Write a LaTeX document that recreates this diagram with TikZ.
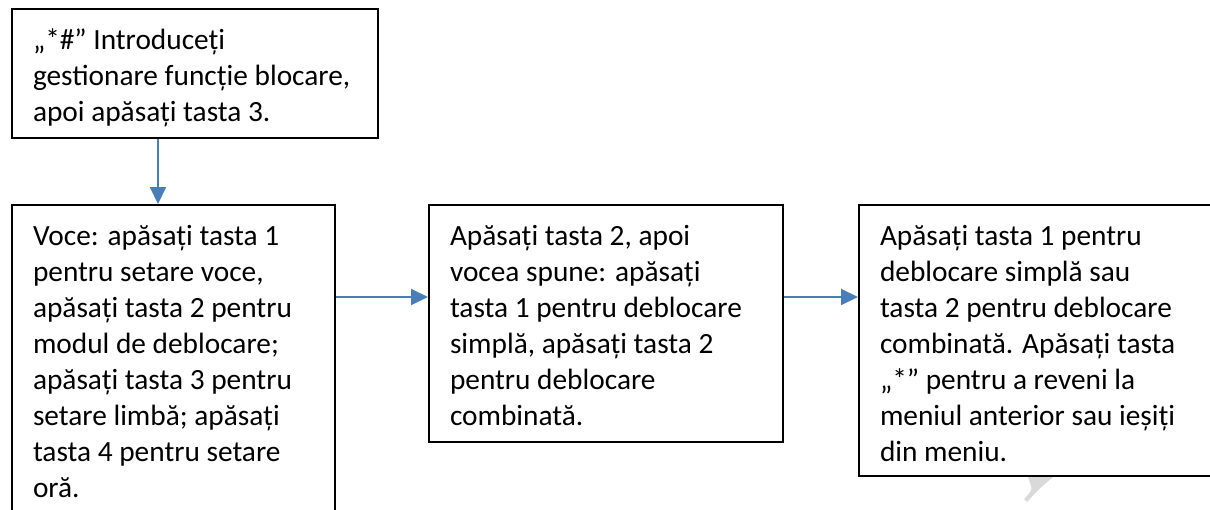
\documentclass[tikz,border=0pt]{standalone}
\usepackage{fontspec}
\setmainfont{Carlito}
\usetikzlibrary{arrows.meta}
\definecolor{arrowblue}{RGB}{74,126,187}

% fixed size text block, text at the top
\newcommand{\boxtext}[3]{\parbox[t][#1][t]{#2}{\raggedright\strut #3}}

\begin{document}
\begin{tikzpicture}[x=0.5pt,y=-0.5pt,
	every node/.style={draw,line width=1pt,anchor=north west,
	inner xsep=10.5pt,inner ysep=7.5pt,
	font=\fontsize{14.67pt}{18pt}\selectfont},
	arr/.style={draw=arrowblue,line width=1pt,-{Triangle[length=8.5pt,width=8pt]}}]
\useasboundingbox (0,0) rectangle (1210,509);
\clip (0,0) rectangle (1210,509);
\node (intro) at (11,8) {\boxtext{49.5pt}{162pt}{„*\#” Introduceți\\
	gestionare funcție blocare,\\
	apoi apăsați tasta 3.}};
\node (voce) at (11,204) {\boxtext{143pt}{140.5pt}{Voce: apăsați tasta 1\\
	pentru setare voce,\\
	apăsați tasta 2 pentru\\
	modul de deblocare;\\
	apăsați tasta 3 pentru\\
	setare limbă; apăsați\\
	tasta 4 pentru setare\\
	oră.}};
\node (deblocare) at (428,204) {\boxtext{103.5pt}{156pt}{Apăsați tasta 2, apoi\\
	vocea spune: apăsați\\
	tasta 1 pentru deblocare\\
	simplă, apăsați tasta 2\\
	pentru deblocare\\
	combinată.}};
\node (meniu) at (858,204) {\boxtext{120.5pt}{175pt}{Apăsați tasta 1 pentru\\
	deblocare simplă sau\\
	tasta 2 pentru deblocare\\
	combinată. Apăsați tasta\\
	„*” pentru a reveni la\\
	meniul anterior sau ieșiți\\
	din meniu.}};
\coordinate (col) at (158,0);
\coordinate (row) at (0,297);
\draw[arr] (intro.south -| col) -- (voce.north -| col);
\draw[arr] (voce.east |- row) -- (deblocare.west |- row);
\draw[arr] (deblocare.east |- row) -- (meniu.west |- row);
% watermark piece
\fill[black!15] (1028,477) -- (1053,477) .. controls (1040,488) .. (1027,502)
	-- (1024,499) .. controls (1033,490) .. (1028,477);
\end{tikzpicture}
\end{document}
